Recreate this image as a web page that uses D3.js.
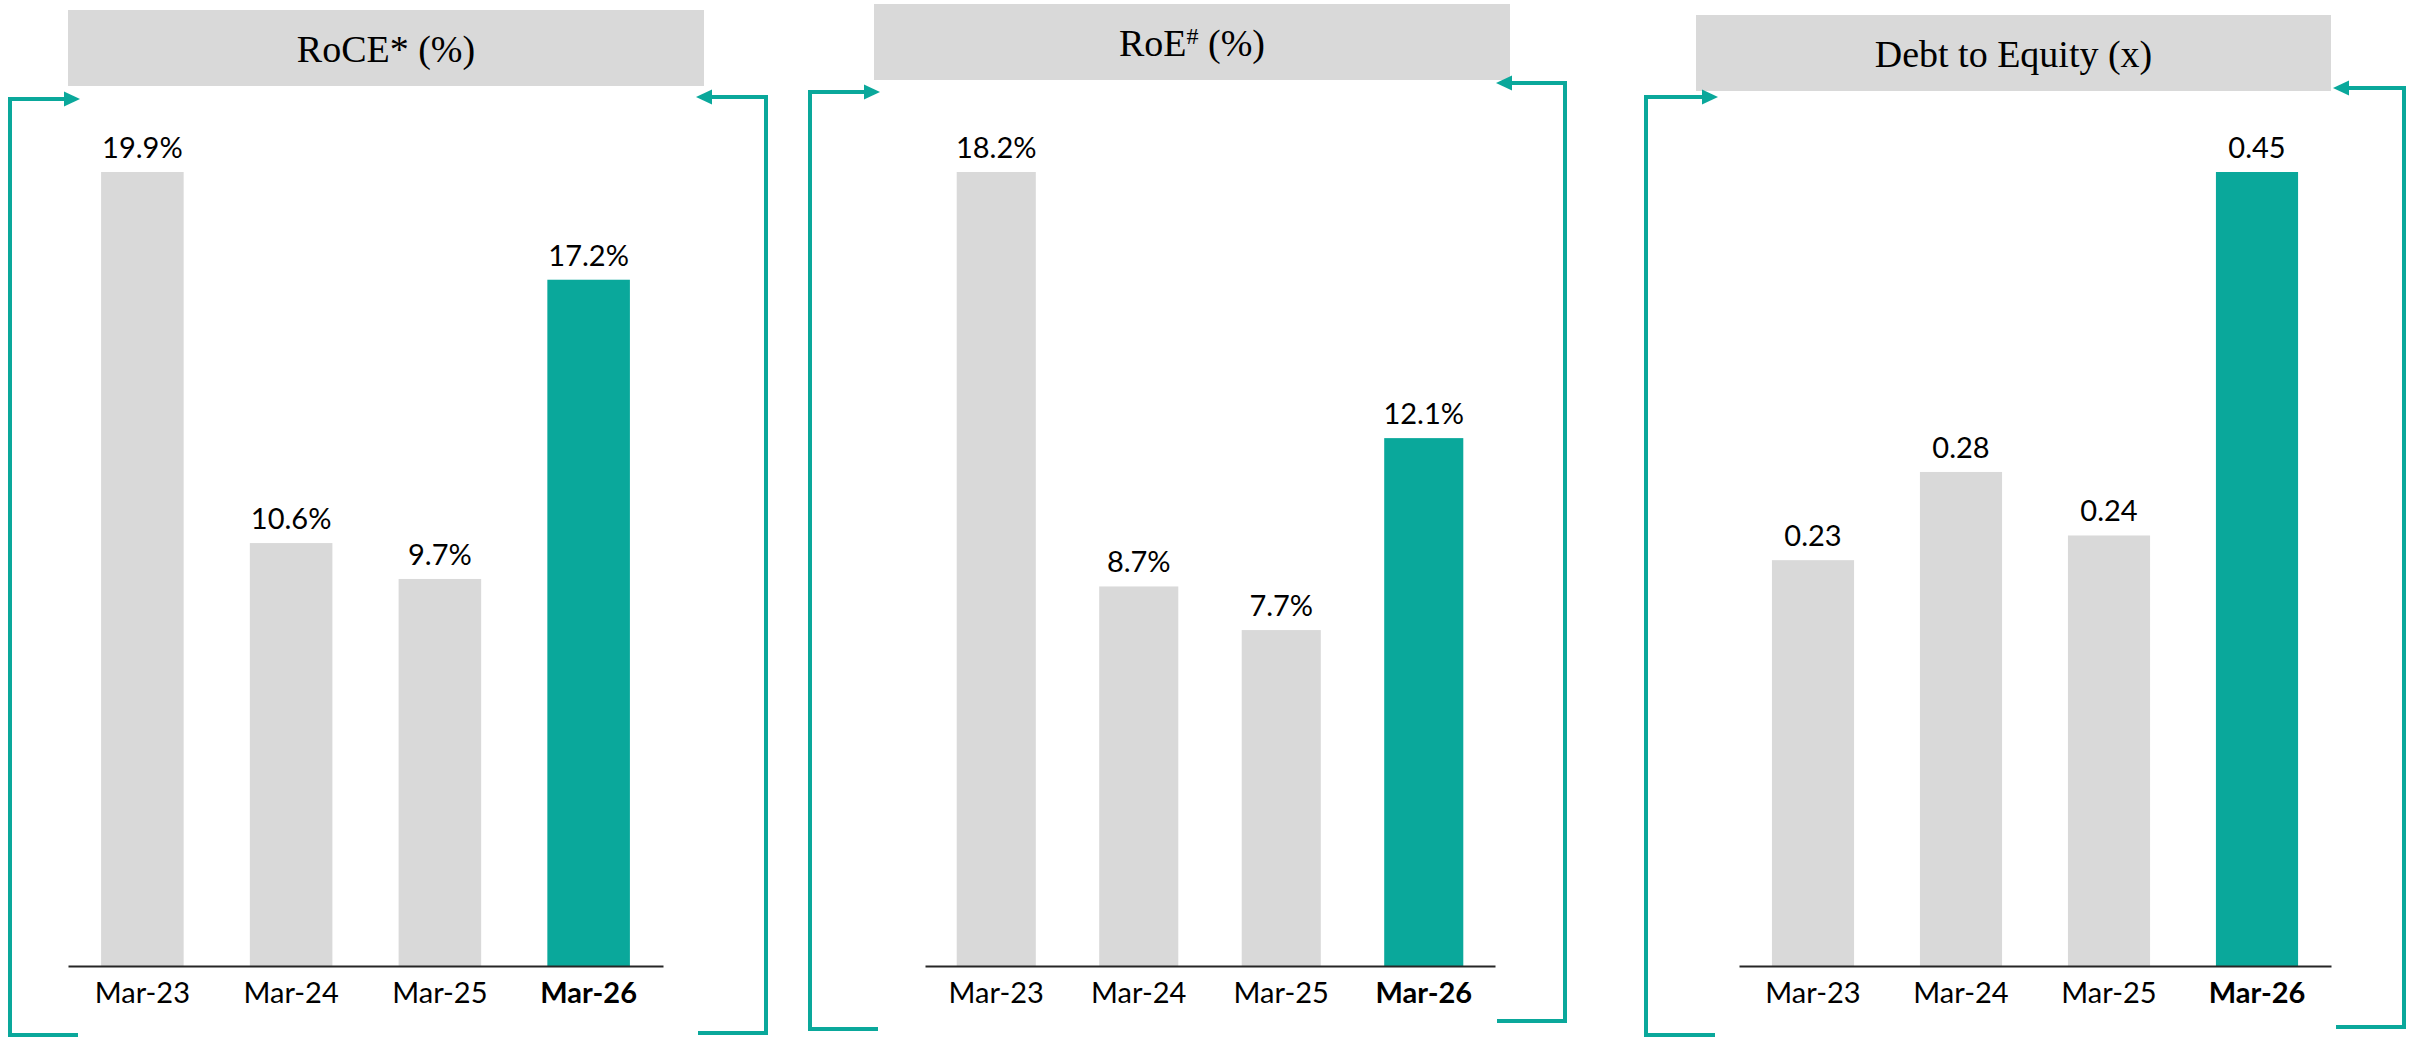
<!DOCTYPE html>
<html>
<head>
<meta charset="utf-8">
<script src="https://cdn.jsdelivr.net/npm/d3@7"></script>
<style>
  body { margin: 0; background: #fff; }
  .axis .domain { stroke: #262626; stroke-width: 2px; }
  .axis text { font-family: Lato, "Open Sans", sans-serif; font-size: 29px; fill: #000; }
  .val { font-family: Lato, "Open Sans", sans-serif; font-size: 29px; fill: #000; }
  .title { font-family: "Liberation Serif", "DejaVu Serif", serif; font-size: 38px; fill: #000; }
</style>
</head>
<body>
<div class="chart"></div>
<script>
// data
var categories = ["Mar-23", "Mar-24", "Mar-25", "Mar-26"];
var roceValues = [19.9, 10.6, 9.7, 17.2];
var roeValues = [18.2, 8.7, 7.7, 12.1];
var debtEquityValues = [0.23, 0.28, 0.244, 0.45];
var titles = ["RoCE* (%)", "RoE# (%)", "Debt to Equity (x)"];

var width = 2409, height = 1037;
var teal = "#0aa89b", grey = "#d9d9d9";
var baseline = 966, barTop = 172;

// where each panel sits on the page
var panels = [
  {title: titles[0], values: roceValues, fmt: function (d) { return d.toFixed(1) + "%"; },
   box: [68, 10, 704, 86], axis: [68, 663],
   left: {x: 10, top: 99, bottom: 1035, tip: 80, end: 78},
   right: {x: 766, top: 97, bottom: 1033, tip: 696, end: 698}},
  {title: titles[1], values: roeValues, fmt: function (d) { return d.toFixed(1) + "%"; },
   box: [874, 4, 1510, 80], axis: [925, 1495],
   left: {x: 810, top: 92, bottom: 1029, tip: 880, end: 878},
   right: {x: 1565, top: 83, bottom: 1021, tip: 1496, end: 1497}},
  {title: titles[2], values: debtEquityValues, fmt: function (d) { return d.toFixed(2); },
   box: [1696, 15, 2331, 91], axis: [1739, 2331],
   left: {x: 1646, top: 97, bottom: 1035, tip: 1718, end: 1715},
   right: {x: 2404, top: 88, bottom: 1027, tip: 2333, end: 2336}}
];

var svg = d3.select(".chart").append("svg")
    .attr("width", width)
    .attr("height", height);

function bracket(g, b, side) {
    // side = 1 for left bracket (arrow points right), -1 for right bracket
    var head = 16, hh = 7.5;
    g.append("path")
        .attr("d", "M" + b.end + "," + b.bottom + " L" + b.x + "," + b.bottom +
            " L" + b.x + "," + b.top + " L" + (b.tip - side * head) + "," + b.top)
        .attr("fill", "none")
        .attr("stroke", teal)
        .attr("stroke-width", 4);
    g.append("path")
        .attr("d", "M" + (b.tip - side * head) + "," + (b.top - hh) + " L" + b.tip + "," + b.top +
            " L" + (b.tip - side * head) + "," + (b.top + hh) + "Z")
        .attr("fill", teal);
}

panels.forEach(function (p) {
    var g = svg.append("g");

    // title box
    g.append("rect")
        .attr("x", p.box[0]).attr("y", p.box[1])
        .attr("width", p.box[2] - p.box[0]).attr("height", p.box[3] - p.box[1])
        .attr("fill", grey);

    var t = g.append("text").classed("title", true)
        .attr("x", (p.box[0] + p.box[2]) / 2)
        .attr("y", (p.box[1] + p.box[3]) / 2 + 14)
        .attr("text-anchor", "middle");
    if (p.title.indexOf("#") > -1) {
        var parts = p.title.split("#");
        t.append("tspan").text(parts[0]);
        t.append("tspan").text("#").attr("font-size", "24px").attr("dy", -12);
        t.append("tspan").text(parts[1]).attr("dy", 12);
    } else {
        t.text(p.title);
    }

    bracket(g, p.left, 1);
    bracket(g, p.right, -1);

    // scales
    var x = d3.scaleBand().domain(categories).range(p.axis)
        .paddingInner(0.445).paddingOuter(0.2225);
    var y = d3.scaleLinear().domain([0, d3.max(p.values)]).range([baseline, barTop]);

    g.selectAll(".bar")
        .data(p.values)
        .enter()
        .append("rect")
        .attr("class", "bar")
        .attr("x", function (d, i) { return x(categories[i]); })
        .attr("width", x.bandwidth())
        .attr("y", function (d) { return y(d); })
        .attr("height", function (d) { return baseline - y(d); })
        .attr("fill", function (d, i) { return i === categories.length - 1 ? teal : grey; });

    g.selectAll(".val")
        .data(p.values)
        .enter()
        .append("text")
        .attr("class", "val")
        .attr("x", function (d, i) { return x(categories[i]) + x.bandwidth() / 2; })
        .attr("y", function (d) { return y(d) - 14; })
        .attr("text-anchor", "middle")
        .text(p.fmt);

    var ax = g.append("g")
        .attr("class", "axis")
        .attr("transform", "translate(0," + baseline + ")")
        .call(d3.axisBottom(x).tickSize(0).tickSizeOuter(0).tickPadding(16));
    ax.selectAll(".tick text")
        .attr("font-weight", function (d, i) { return i === categories.length - 1 ? "bold" : "normal"; });
});
</script>
</body>
</html>
